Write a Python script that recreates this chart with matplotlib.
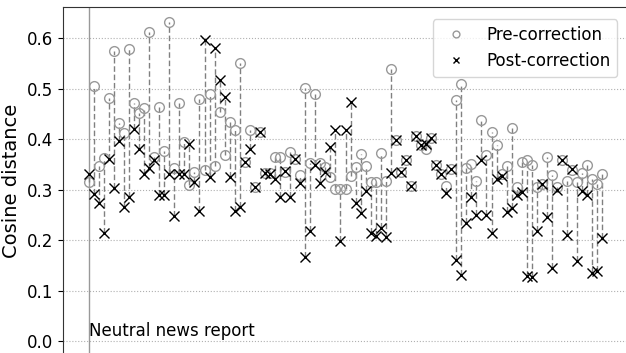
# %% Requirements and constants
import numpy as np
import matplotlib
matplotlib.use('Agg')
import matplotlib.pyplot as plt

# cosine distance per sample, before and after correction
pre_correction = [
    0.315, 0.506, 0.347, 0.362, 0.482, 0.574, 0.432, 0.413, 0.578, 0.472,
    0.451, 0.461, 0.612, 0.365, 0.464, 0.376, 0.632, 0.343, 0.472, 0.395,
    0.309, 0.335, 0.480, 0.339, 0.490, 0.347, 0.454, 0.368, 0.434, 0.418,
    0.550, 0.354, 0.418, 0.305, 0.414, 0.333, 0.333, 0.365, 0.364, 0.335,
    0.374, 0.360, 0.329, 0.501, 0.352, 0.489, 0.352, 0.344, 0.325, 0.302,
    0.302, 0.302, 0.327, 0.344, 0.370, 0.347, 0.315, 0.315, 0.373, 0.318,
    0.539, 0.398, 0.335, 0.358, 0.308, 0.406, 0.389, 0.381, 0.403, 0.349,
    0.330, 0.308, 0.341, 0.478, 0.510, 0.342, 0.350, 0.317, 0.438, 0.368,
    0.415, 0.389, 0.330, 0.346, 0.422, 0.306, 0.354, 0.359, 0.349, 0.306,
    0.312, 0.364, 0.329, 0.306, 0.358, 0.318, 0.339, 0.316, 0.332, 0.348,
    0.321, 0.311, 0.330,
]
post_correction = [
    0.330, 0.292, 0.274, 0.213, 0.360, 0.304, 0.397, 0.266, 0.286, 0.421,
    0.380, 0.330, 0.342, 0.358, 0.289, 0.289, 0.331, 0.248, 0.331, 0.331,
    0.391, 0.315, 0.258, 0.596, 0.324, 0.581, 0.517, 0.484, 0.325, 0.258,
    0.266, 0.355, 0.380, 0.305, 0.414, 0.333, 0.330, 0.321, 0.285, 0.336,
    0.285, 0.360, 0.313, 0.167, 0.217, 0.349, 0.313, 0.334, 0.385, 0.418,
    0.199, 0.418, 0.474, 0.274, 0.254, 0.298, 0.214, 0.208, 0.224, 0.207,
    0.332, 0.398, 0.335, 0.358, 0.308, 0.406, 0.389, 0.391, 0.403, 0.349,
    0.330, 0.294, 0.341, 0.161, 0.130, 0.233, 0.286, 0.249, 0.358, 0.250,
    0.214, 0.320, 0.326, 0.255, 0.263, 0.290, 0.296, 0.128, 0.127, 0.217,
    0.312, 0.245, 0.145, 0.299, 0.358, 0.210, 0.340, 0.159, 0.297, 0.289,
    0.134, 0.139, 0.204,
]
label_text = 'Neutral news report'
y_ticks = [0.0, 0.1, 0.2, 0.3, 0.4, 0.5, 0.6]

# %% Plot
pre = np.array(pre_correction)
post = np.array(post_correction)
idx = np.arange(len(pre))

fig = plt.figure(figsize=(6.26, 3.53), dpi=100)
ax = fig.add_axes([63 / 626, -0.006, 565 / 626, 0.985])

ax.vlines(idx, np.minimum(pre, post), np.maximum(pre, post),
          colors='#808080', linestyles=(0, (4, 2)), linewidth=1, zorder=1)
ax.plot(idx, pre, 'o', mfc='none', mec='#999999', ms=7, mew=1,
        label='Pre-correction', zorder=2)
ax.plot(idx, post, 'x', color='black', ms=7, mew=1,
        label='Post-correction', zorder=3)

ax.axvline(0, color='#999999', linewidth=1, zorder=0)
ax.text(0, 0.002, label_text, fontsize=12, ha='left', va='bottom')

ax.set_xlim(-5.1, len(pre) - 1 + 5.1)
ax.set_ylim(-0.028, 0.661)
ax.set_xticks([])
ax.set_yticks(y_ticks)
ax.set_yticklabels([f'{t:.1f}' for t in y_ticks], fontsize=12)
ax.set_ylabel('Cosine distance', fontsize=14)
ax.yaxis.grid(True, linestyle=':', color='#b0b0b0', linewidth=0.8)
ax.set_axisbelow(True)
for s in ax.spines.values():
    s.set_color('#333333')

ax.legend(loc='upper right', fontsize=12, markerscale=0.7,
          bbox_to_anchor=(0.996, 0.99))

fig.savefig('out.png', dpi=100)
